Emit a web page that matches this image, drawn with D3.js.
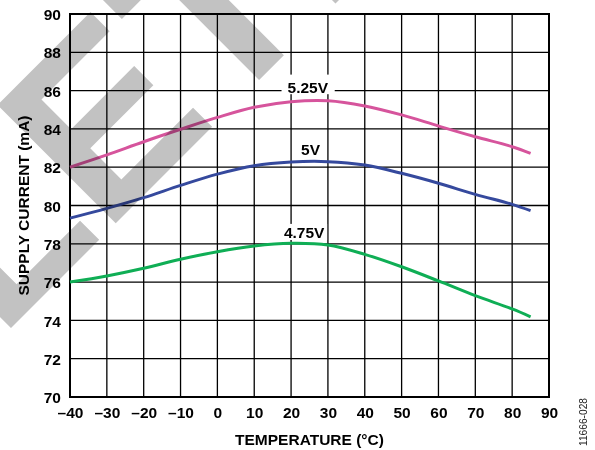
<!DOCTYPE html>
<html>
<head>
<meta charset="utf-8">
<script src="https://cdn.jsdelivr.net/npm/d3@7"></script>
<style>
  html, body { margin: 0; padding: 0; background: #fff; }
  svg { display: block; }
  text { font-family: "Liberation Sans", Arial, sans-serif; }
</style>
</head>
<body>
<script>
// ---- data ----
const temps = [-40, -30, -20, -10, 0, 10, 20, 30, 40, 50, 60, 70, 80, 85];
const seriesNames = ["5.25V", "5V", "4.75V"];
const current525 = [82.0, 82.64, 83.33, 83.98, 84.6, 85.13, 85.42, 85.47, 85.2, 84.73, 84.15, 83.59, 83.07, 82.72];
const current500 = [79.34, 79.85, 80.41, 81.05, 81.64, 82.08, 82.27, 82.29, 82.11, 81.68, 81.16, 80.58, 80.06, 79.73];
const current475 = [76.0, 76.32, 76.72, 77.19, 77.59, 77.89, 78.03, 77.94, 77.45, 76.8, 76.06, 75.29, 74.6, 74.19];
const xTicks = [-40, -30, -20, -10, 0, 10, 20, 30, 40, 50, 60, 70, 80, 90];
const yTicks = [70, 72, 74, 76, 78, 80, 82, 84, 86, 88, 90];
const xTitle = "TEMPERATURE (°C)";
const yTitle = "SUPPLY CURRENT (mA)";
const figId = "11666-028";
const watermarkWord = "OBSOLETE";

// ---- layout ----
const W = 595, H = 450;
const pL = 70, pR = 549, pT = 14, pB = 397;
const colors = ["#d6549c", "#35499d", "#0fae55"];

const svg = d3.select("body").append("svg").attr("width", W).attr("height", H);
svg.append("rect").attr("width", W).attr("height", H).attr("fill", "#fff");

const x = d3.scaleLinear().domain([-40, 90]).range([pL, pR]);
const y = d3.scaleLinear().domain([70, 90]).range([pB, pT]);

const fmt = d => d < 0 ? "\u2013" + Math.abs(d) : String(d);

// grid
const grid = svg.append("g");
grid.selectAll("line.v").data(xTicks).join("line").attr("class", "v")
  .attr("x1", d => x(d)).attr("x2", d => x(d)).attr("y1", pT).attr("y2", pB)
  .attr("stroke", "#000").attr("stroke-width", 1.3);
grid.selectAll("line.h").data(yTicks).join("line").attr("class", "h")
  .attr("y1", d => y(d)).attr("y2", d => y(d)).attr("x1", pL).attr("x2", pR)
  .attr("stroke", "#000").attr("stroke-width", 1.3);
svg.append("rect").attr("x", pL).attr("y", pT).attr("width", pR - pL).attr("height", pB - pT)
  .attr("fill", "none").attr("stroke", "#000").attr("stroke-width", 2);

// axes (labels only)
const xAxis = d3.axisBottom(x).tickValues(xTicks).tickFormat(fmt).tickSize(0).tickPadding(0);
const gx = svg.append("g").attr("transform", `translate(0,${pB})`).call(xAxis);
gx.select(".domain").remove();
gx.selectAll("text").attr("font-size", 15.5).attr("font-weight", "bold").attr("fill", "#000")
  .attr("dy", null).attr("y", 20.7).attr("font-family", "Liberation Sans, Arial, sans-serif");

const yAxis = d3.axisLeft(y).tickValues(yTicks).tickSize(0).tickPadding(0);
const gy = svg.append("g").attr("transform", `translate(${pL},0)`).call(yAxis);
gy.select(".domain").remove();
gy.selectAll("text").attr("font-size", 15.5).attr("font-weight", "bold").attr("fill", "#000")
  .attr("dy", null).attr("x", -9).attr("y", 5.6).attr("font-family", "Liberation Sans, Arial, sans-serif");

// titles
svg.append("text").attr("x", (pL + pR) / 2).attr("y", 445).attr("text-anchor", "middle")
  .attr("font-size", 15.5).attr("font-weight", "bold").attr("fill", "#000").text(xTitle);
svg.append("text").attr("transform", `translate(28.5,${(pT + pB) / 2}) rotate(-90)`)
  .attr("text-anchor", "middle").attr("font-size", 15.5).attr("font-weight", "bold").attr("fill", "#000").text(yTitle);
svg.append("text").attr("transform", `translate(586.5,422) rotate(-90)`)
  .attr("text-anchor", "middle").attr("font-size", 10.2).attr("fill", "#222").text(figId);

// series
const series = [current525, current500, current475];
const line = d3.line().x((d, i) => x(temps[i])).y(d => y(d)).curve(d3.curveCatmullRom.alpha(0.5));

// curve labels (white boxes behind)
const labelPos = [
  { cx: 307.8, base: 92.7, padX: 6, padTop: 7, padBot: 1.5 },
  { cx: 310.5, base: 155, padX: 2, padTop: 3, padBot: 1.5 },
  { cx: 304.2, base: 238.3, padX: 2, padTop: 3.3, padBot: 1.7 }
];
const lblG = svg.append("g");
seriesNames.forEach((name, i) => {
  const p = labelPos[i];
  const t = lblG.append("text").attr("x", p.cx).attr("y", p.base).attr("text-anchor", "middle")
    .attr("font-size", 15.5).attr("font-weight", "bold").attr("fill", "#000").text(name);
  const bb = t.node().getBBox();
  const cap = 15.5 * 0.716;
  lblG.insert("rect", "text").attr("x", bb.x - p.padX).attr("width", bb.width + 2 * p.padX)
    .attr("y", p.base - cap - p.padTop).attr("height", cap + p.padTop + p.padBot).attr("fill", "#fff");
});

svg.append("g").selectAll("path").data(series).join("path")
  .attr("d", d => line(d)).attr("fill", "none")
  .attr("stroke", (d, i) => colors[i]).attr("stroke-width", 3).attr("stroke-linecap", "butt");

// watermark (gray, multiplied over the chart)
const wm = svg.append("g").style("mix-blend-mode", "multiply")
  .attr("transform", "translate(-0.6,339.6) rotate(-45)");
const wt = wm.append("text").attr("x", 0).attr("y", 0)
  .attr("font-size", 243).attr("font-weight", "bold").attr("fill", "#c2c2c2").text(watermarkWord);
const lead = wt.node().getSubStringLength(0, 4);
wt.attr("x", -lead);
</script>
</body>
</html>
